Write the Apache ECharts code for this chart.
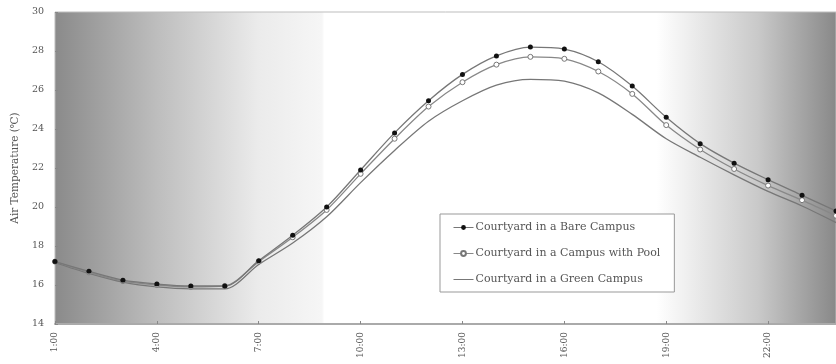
<!DOCTYPE html>
<html>
<head>
<meta charset="utf-8">
<script src="https://cdn.jsdelivr.net/npm/echarts@6/dist/echarts.min.js"></script>
<style>
html,body{margin:0;padding:0;background:#fff;}
#chart{width:836px;height:364px;}
</style>
</head>
<body>
<div id="chart"></div>
<script>
var hours = ['1:00','2:00','3:00','4:00','5:00','6:00','7:00','8:00','9:00','10:00','11:00','12:00',
             '13:00','14:00','15:00','16:00','17:00','18:00','19:00','20:00','21:00','22:00','23:00','24:00'];
var bareCampus = [17.2,16.7,16.25,16.05,15.95,15.95,17.25,18.55,20.0,21.9,23.8,25.45,
                  26.8,27.75,28.2,28.1,27.45,26.2,24.6,23.25,22.25,21.4,20.6,19.8];
var poolCampus = [17.2,16.65,16.2,16.0,15.9,15.95,17.2,18.45,19.85,21.7,23.5,25.15,
                  26.4,27.3,27.7,27.6,26.95,25.8,24.2,22.95,21.95,21.1,20.35,19.55];
var greenCampus = [17.15,16.6,16.15,15.9,15.8,15.8,17.05,18.15,19.5,21.25,22.9,24.4,
                   25.45,26.25,26.55,26.45,25.85,24.75,23.5,22.55,21.65,20.8,20.05,19.2];
var seriesNames = ['Courtyard in a Bare Campus','Courtyard in a Campus with Pool','Courtyard in a Green Campus'];
var yTicks = {min: 14, max: 30, step: 2};

var FONT = 'DejaVu Serif';
var chart = echarts.init(document.getElementById('chart'), null, {renderer: 'canvas'});
var bg = new echarts.graphic.LinearGradient(0, 0, 1, 0, [
  {offset: 0, color: '#8a8a8a'},
  {offset: 0.13, color: '#bdbdbd'},
  {offset: 0.26, color: '#ebebeb'},
  {offset: 0.342, color: '#f6f6f6'},
  {offset: 0.345, color: '#ffffff'},
  {offset: 0.77, color: '#ffffff'},
  {offset: 0.9, color: '#c9c9c9'},
  {offset: 1, color: '#888888'}
]);
chart.setOption({
  animation: false,
  backgroundColor: '#ffffff',
  grid: {left: 55, right: -7, top: 12, bottom: 40, show: true, backgroundColor: bg, borderColor: '#bdbdbd', borderWidth: 1},
  legend: {
    orient: 'vertical', left: 440, top: 214,
    padding: [8, 14, 7, 13], itemGap: 15, itemWidth: 20, itemHeight: 6,
    borderColor: '#999', borderWidth: 1, backgroundColor: '#fff',
    textStyle: {fontFamily: FONT, fontSize: 11, color: '#555', padding: [0,0,0,-3]},
    lineStyle: {width: 1},
    data: [
      {name: seriesNames[0]},
      {name: seriesNames[1]},
      {name: seriesNames[2], itemStyle: {opacity: 0}}
    ]
  },
  xAxis: {
    type: 'category', data: hours, boundaryGap: false,
    axisLine: {lineStyle: {color: '#aaa', width: 2}},
    axisTick: {inside: true, length: 3, interval: 2, lineStyle: {color: '#888'}},
    axisLabel: {interval: 2, rotate: 90, margin: 8, fontFamily: FONT, fontSize: 9, color: '#555'},
    splitLine: {show: false}
  },
  yAxis: {
    type: 'value', min: yTicks.min, max: yTicks.max, interval: yTicks.step,
    name: 'Air Temperature (\u2103)', nameLocation: 'middle', nameGap: 33,
    nameTextStyle: {fontFamily: FONT, fontSize: 10.5, color: '#555'},
    axisLine: {show: false},
    axisTick: {show: true, inside: true, length: 3, lineStyle: {color: '#888'}},
    axisLabel: {margin: 11, fontFamily: FONT, fontSize: 9.5, color: '#555'},
    splitLine: {show: false}
  },
  series: [
    {name: seriesNames[0], type: 'line', data: bareCampus, smooth: 0.3,
     symbol: 'circle', symbolSize: 5, z: 4,
     lineStyle: {color: '#777', width: 1.3},
     itemStyle: {color: '#111', borderColor: '#111', borderWidth: 0}},
    {name: seriesNames[1], type: 'line', data: poolCampus, smooth: 0.3,
     symbol: 'circle', symbolSize: 5, z: 3,
     lineStyle: {color: '#888', width: 1.3},
     itemStyle: {color: '#fff', borderColor: '#777', borderWidth: 1}},
    {name: seriesNames[2], type: 'line', data: greenCampus, smooth: 0.3,
     symbol: 'none', showSymbol: false, z: 2,
     lineStyle: {color: '#777', width: 1.3},
     itemStyle: {color: '#777'}}
  ]
});
</script>
</body>
</html>
